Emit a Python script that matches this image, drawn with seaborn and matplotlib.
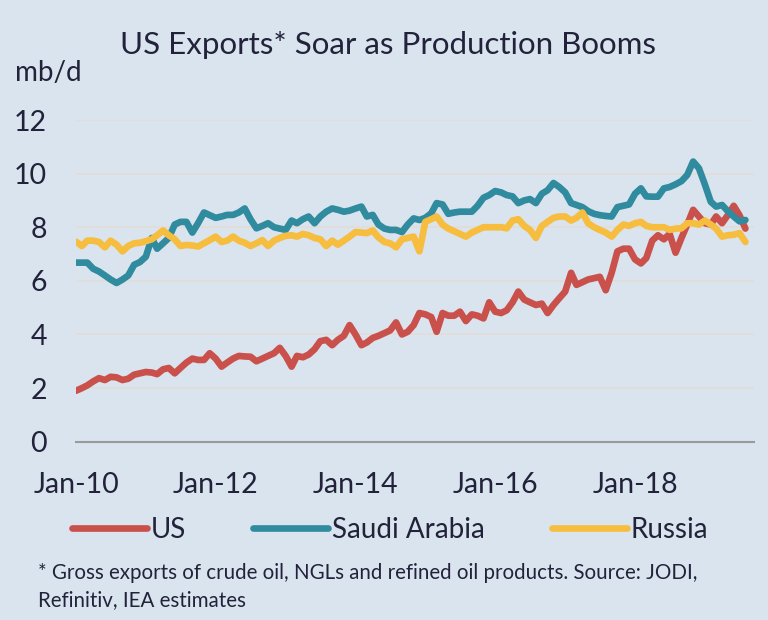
import pandas as pd
import matplotlib
matplotlib.use("Agg")
import matplotlib.pyplot as plt
import matplotlib.dates as mdates
import seaborn as sns

# Monthly exports, mb/d, Jan-2010 .. Aug-2019
us = [1.9, 2.0, 2.1, 2.25, 2.37, 2.3, 2.42, 2.4, 2.3, 2.35, 2.5, 2.55,
      2.6, 2.58, 2.52, 2.7, 2.75, 2.55, 2.75, 2.95, 3.1, 3.05, 3.05, 3.3,
      3.1, 2.8, 2.95, 3.1, 3.2, 3.18, 3.17, 3.0, 3.1, 3.2, 3.3, 3.5,
      3.2, 2.8, 3.2, 3.15, 3.25, 3.45, 3.75, 3.8, 3.6, 3.8, 3.95, 4.35,
      4.0, 3.6, 3.7, 3.87, 3.95, 4.05, 4.15, 4.45, 4.0, 4.1, 4.35, 4.8,
      4.75, 4.65, 4.1, 4.8, 4.7, 4.7, 4.85, 4.5, 4.75, 4.7, 4.6, 5.2,
      4.85, 4.8, 4.9, 5.2, 5.6, 5.3, 5.2, 5.1, 5.15, 4.8, 5.1, 5.35,
      5.6, 6.3, 5.85, 5.95, 6.05, 6.1, 6.15, 5.65, 6.3, 7.1, 7.2, 7.2,
      6.8, 6.65, 6.85, 7.5, 7.7, 7.55, 7.75, 7.05, 7.6, 8.1, 8.65, 8.4,
      8.15, 8.1, 8.4, 8.15, 8.45, 8.8, 8.45, 7.95]
saudi = [6.68, 6.68, 6.68, 6.45, 6.35, 6.2, 6.05, 5.92, 6.05, 6.2, 6.6, 6.7,
         6.9, 7.6, 7.2, 7.4, 7.6, 8.1, 8.2, 8.2, 7.8, 8.15, 8.55, 8.45,
         8.35, 8.4, 8.46, 8.46, 8.55, 8.7, 8.3, 7.96, 8.05, 8.15, 8.0, 7.95,
         7.9, 8.25, 8.15, 8.3, 8.4, 8.15, 8.4, 8.58, 8.7, 8.65, 8.58, 8.62,
         8.7, 8.77, 8.4, 8.46, 8.1, 7.95, 7.9, 7.9, 7.82, 8.1, 8.33, 8.27,
         8.35, 8.52, 8.9, 8.85, 8.5, 8.55, 8.58, 8.58, 8.58, 8.8, 9.1, 9.2,
         9.35, 9.3, 9.2, 9.15, 8.9, 9.0, 9.05, 8.9, 9.25, 9.38, 9.65, 9.5,
         9.3, 8.9, 8.83, 8.75, 8.6, 8.5, 8.45, 8.42, 8.4, 8.75, 8.8, 8.85,
         9.25, 9.45, 9.15, 9.14, 9.14, 9.45, 9.5, 9.6, 9.72, 9.95, 10.45, 10.2,
         9.6, 8.95, 8.77, 8.83, 8.6, 8.4, 8.22, 8.27]
russia = [7.46, 7.3, 7.5, 7.5, 7.45, 7.25, 7.5, 7.35, 7.1, 7.3, 7.4, 7.42,
          7.48, 7.55, 7.7, 7.88, 7.7, 7.55, 7.3, 7.34, 7.32, 7.28, 7.4, 7.52,
          7.65, 7.45, 7.5, 7.65, 7.5, 7.42, 7.3, 7.4, 7.52, 7.3, 7.5, 7.6,
          7.68, 7.7, 7.65, 7.75, 7.7, 7.6, 7.55, 7.3, 7.5, 7.35, 7.5, 7.65,
          7.82, 7.8, 7.78, 7.88, 7.62, 7.45, 7.4, 7.25, 7.55, 7.6, 7.65, 7.1,
          8.2, 8.3, 8.4, 8.1, 7.95, 7.85, 7.75, 7.65, 7.8, 7.9, 8.0, 8.0,
          8.0, 8.0, 7.96, 8.25, 8.3, 8.05, 7.9, 7.6, 8.05, 8.2, 8.35, 8.4,
          8.4, 8.25, 8.35, 8.55, 8.15, 8.0, 7.9, 7.8, 7.65, 7.9, 8.1, 8.05,
          8.15, 8.2, 8.05, 8.0, 8.0, 8.0, 7.9, 7.95, 7.96, 8.15, 8.15, 8.1,
          8.25, 8.1, 7.95, 7.65, 7.7, 7.72, 7.78, 7.45]

countries = ["US", "Saudi Arabia", "Russia"]
colors = ["#c9504b", "#2f8b9d", "#f6bd3e"]
y_ticks = [0, 2, 4, 6, 8, 10, 12]

dates = pd.date_range("2010-01-01", periods=len(us), freq="MS")
df = pd.DataFrame({"date": dates, "US": us, "Saudi Arabia": saudi, "Russia": russia})
long_df = df.melt(id_vars="date", var_name="country", value_name="mbd")

bg = "#d9e4ee"
text_col = "#22223a"

sns.set_theme(style="white")
plt.rcParams["font.family"] = ["Lato", "DejaVu Sans"]

fig = plt.figure(figsize=(7.68, 6.2), dpi=100, facecolor=bg)
ax = fig.add_axes([76 / 768, 1 - 441.7 / 620, (754 - 76) / 768, (441.7 - 120) / 620])
ax.set_facecolor(bg)

sns.lineplot(data=long_df, x="date", y="mbd", hue="country", hue_order=countries,
             palette=colors, linewidth=4.8, legend=False, ax=ax,
             solid_capstyle="round")

ax.set_ylim(0, 12)
ax.set_yticks(y_ticks)
ax.set_xlim(pd.Timestamp("2010-01-01"), pd.Timestamp("2019-09-15"))
ax.xaxis.set_major_locator(mdates.YearLocator(2, month=1, day=1))
ax.xaxis.set_major_formatter(mdates.DateFormatter("%b-%y"))

for v in y_ticks[1:]:
    ax.axhline(v, color="#e3dcd6", linewidth=1.2, zorder=0)

for side in ["left", "right", "top"]:
    ax.spines[side].set_visible(False)
ax.spines["bottom"].set_color("#9a9a9a")
ax.spines["bottom"].set_linewidth(1.5)
ax.tick_params(axis="x", direction="out", length=7, width=1.5, color="#9a9a9a",
               pad=15, labelsize=20.5, labelcolor=text_col)
ax.tick_params(axis="y", length=0, pad=21, labelsize=20.5, labelcolor=text_col)
ax.set_xlabel("")
ax.set_ylabel("")

fig.text(0.505, 1 - 45 / 620, "US Exports* Soar as Production Booms", ha="center",
         va="center", fontsize=22.5, color=text_col)
fig.text(15 / 768, 1 - 73 / 620, "mb/d", ha="left", va="center", fontsize=20,
         color=text_col)

handles = ax.get_lines()[:3]
fig.legend(handles, countries, loc="center left", bbox_to_anchor=(72 / 768, 1 - 530 / 620),
           ncol=3, frameon=False, fontsize=20, handlelength=2.7, handletextpad=0.15,
           columnspacing=2.4, borderpad=0, borderaxespad=0, labelcolor=text_col)

fig.text(38 / 768, 1 - 573 / 620,
         "* Gross exports of crude oil, NGLs and refined oil products. Source: JODI,",
         ha="left", va="center", fontsize=14.8, color=text_col)
fig.text(38 / 768, 1 - 600 / 620, "Refinitiv, IEA estimates", ha="left", va="center",
         fontsize=14.8, color=text_col)

fig.savefig("out.png", dpi=100, facecolor=bg)
